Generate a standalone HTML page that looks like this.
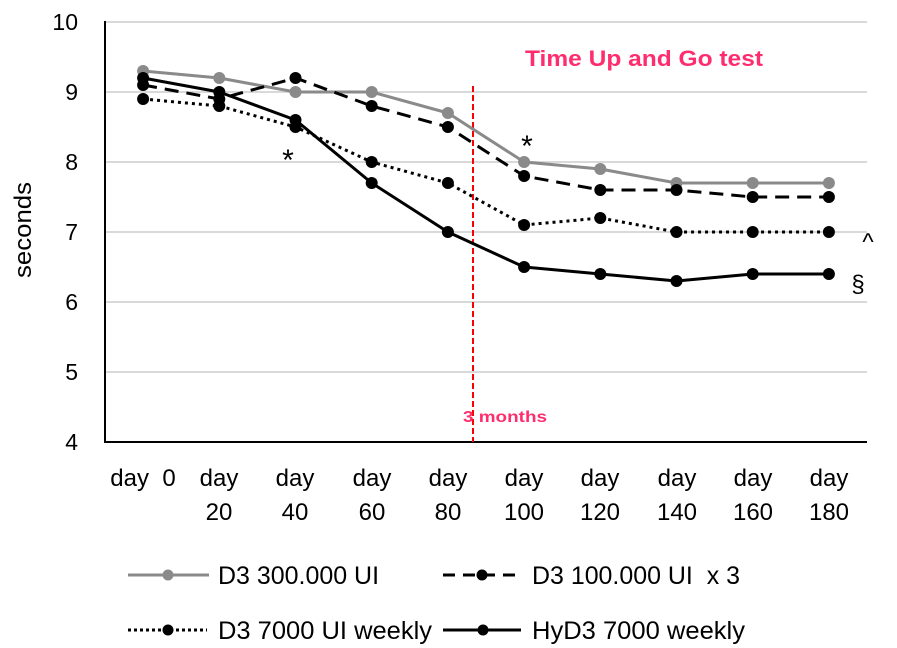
<!DOCTYPE html>
<html>
<head>
<meta charset="utf-8">
<style>
  html, body { margin: 0; padding: 0; background: #ffffff; }
  svg { display: block; }
  text { font-family: "Liberation Sans", "DejaVu Sans", sans-serif; }
</style>
</head>
<body>
<svg width="897" height="648" viewBox="0 0 897 648" xmlns="http://www.w3.org/2000/svg">
  <rect x="0" y="0" width="897" height="648" fill="#ffffff"/>

  <!-- gridlines -->
  <g stroke="#d9d9d9" stroke-width="2">
    <line x1="105" y1="22" x2="867" y2="22"/>
    <line x1="105" y1="92" x2="867" y2="92"/>
    <line x1="105" y1="162" x2="867" y2="162"/>
    <line x1="105" y1="232" x2="867" y2="232"/>
    <line x1="105" y1="302" x2="867" y2="302"/>
    <line x1="105" y1="372" x2="867" y2="372"/>
  </g>

  <!-- axes -->
  <line x1="105" y1="21" x2="105" y2="443" stroke="#000" stroke-width="2"/>
  <line x1="104" y1="442" x2="867" y2="442" stroke="#000" stroke-width="2"/>

  <!-- y tick labels -->
  <g font-size="23" fill="#000" text-anchor="end">
    <text x="78" y="30">10</text>
    <text x="78" y="100">9</text>
    <text x="78" y="170">8</text>
    <text x="78" y="240">7</text>
    <text x="78" y="310">6</text>
    <text x="78" y="380">5</text>
    <text x="78" y="450">4</text>
  </g>

  <!-- y axis title -->
  <text x="0" y="0" font-size="24" fill="#000" text-anchor="middle" textLength="96" lengthAdjust="spacingAndGlyphs" transform="translate(31,230) rotate(-90)">seconds</text>

  <!-- x labels -->
  <g font-size="24" fill="#000" text-anchor="middle">
    <text x="143" y="486" xml:space="preserve">day  0</text>
    <text x="219" y="486">day</text><text x="219" y="520">20</text>
    <text x="295" y="486">day</text><text x="295" y="520">40</text>
    <text x="372" y="486">day</text><text x="372" y="520">60</text>
    <text x="448" y="486">day</text><text x="448" y="520">80</text>
    <text x="524" y="486">day</text><text x="524" y="520">100</text>
    <text x="600" y="486">day</text><text x="600" y="520">120</text>
    <text x="677" y="486">day</text><text x="677" y="520">140</text>
    <text x="753" y="486">day</text><text x="753" y="520">160</text>
    <text x="829" y="486">day</text><text x="829" y="520">180</text>
  </g>

  <!-- red dashed 3 months line -->
  <line x1="473" y1="86" x2="473" y2="442" stroke="#ff0000" stroke-width="2" stroke-dasharray="6,3"/>
  <text x="505" y="422" font-size="16" font-weight="bold" fill="#ff2d6e" text-anchor="middle" textLength="84" lengthAdjust="spacingAndGlyphs">3 months</text>

  <!-- title -->
  <text x="644" y="66" font-size="22" font-weight="bold" fill="#ff2d6e" text-anchor="middle" textLength="238" lengthAdjust="spacingAndGlyphs">Time Up and Go test</text>

  <!-- Series 1: D3 300.000 UI (gray solid) -->
  <polyline fill="none" stroke="#8a8a8a" stroke-width="3" stroke-linejoin="round"
    points="143.1,71 219.3,78 295.5,92 371.7,92 447.9,113 524.1,162 600.3,169 676.5,183 752.7,183 828.9,183"/>
  <g fill="#8a8a8a">
    <circle cx="143.1" cy="71" r="6"/><circle cx="219.3" cy="78" r="6"/><circle cx="295.5" cy="92" r="6"/>
    <circle cx="371.7" cy="92" r="6"/><circle cx="447.9" cy="113" r="6"/><circle cx="524.1" cy="162" r="6"/>
    <circle cx="600.3" cy="169" r="6"/><circle cx="676.5" cy="183" r="6"/><circle cx="752.7" cy="183" r="6"/>
    <circle cx="828.9" cy="183" r="6"/>
  </g>

  <!-- Series 2: D3 100.000 UI x 3 (black dashed) -->
  <polyline fill="none" stroke="#000" stroke-width="3" stroke-dasharray="14,8"
    points="143.1,85 219.3,99 295.5,78 371.7,106 447.9,127 524.1,176 600.3,190 676.5,190 752.7,197 828.9,197"/>
  <g fill="#000">
    <circle cx="143.1" cy="85" r="6"/><circle cx="219.3" cy="99" r="6"/><circle cx="295.5" cy="78" r="6"/>
    <circle cx="371.7" cy="106" r="6"/><circle cx="447.9" cy="127" r="6"/><circle cx="524.1" cy="176" r="6"/>
    <circle cx="600.3" cy="190" r="6"/><circle cx="676.5" cy="190" r="6"/><circle cx="752.7" cy="197" r="6"/>
    <circle cx="828.9" cy="197" r="6"/>
  </g>

  <!-- Series 3: D3 7000 UI weekly (black dotted) -->
  <polyline fill="none" stroke="#000" stroke-width="3" stroke-dasharray="3,4"
    points="143.1,99 219.3,106 295.5,127 371.7,162 447.9,183 524.1,225 600.3,218 676.5,232 752.7,232 828.9,232"/>
  <g fill="#000">
    <circle cx="143.1" cy="99" r="6"/><circle cx="219.3" cy="106" r="6"/><circle cx="295.5" cy="127" r="6"/>
    <circle cx="371.7" cy="162" r="6"/><circle cx="447.9" cy="183" r="6"/><circle cx="524.1" cy="225" r="6"/>
    <circle cx="600.3" cy="218" r="6"/><circle cx="676.5" cy="232" r="6"/><circle cx="752.7" cy="232" r="6"/>
    <circle cx="828.9" cy="232" r="6"/>
  </g>

  <!-- Series 4: HyD3 7000 weekly (black solid) -->
  <polyline fill="none" stroke="#000" stroke-width="3" stroke-linejoin="round"
    points="143.1,78 219.3,92 295.5,120 371.7,183 447.9,232 524.1,267 600.3,274 676.5,281 752.7,274 828.9,274"/>
  <g fill="#000">
    <circle cx="143.1" cy="78" r="6"/><circle cx="219.3" cy="92" r="6"/><circle cx="295.5" cy="120" r="6"/>
    <circle cx="371.7" cy="183" r="6"/><circle cx="447.9" cy="232" r="6"/><circle cx="524.1" cy="267" r="6"/>
    <circle cx="600.3" cy="274" r="6"/><circle cx="676.5" cy="281" r="6"/><circle cx="752.7" cy="274" r="6"/>
    <circle cx="828.9" cy="274" r="6"/>
  </g>

  <!-- annotations -->
  <g font-size="30" fill="#000" text-anchor="middle">
    <text x="288" y="170">*</text>
    <text x="527" y="156">*</text>
  </g>
  <text x="868" y="250" font-size="24" fill="#000" text-anchor="middle">^</text>
  <text x="858" y="292" font-size="24" fill="#000" text-anchor="middle">§</text>

  <!-- legend row 1 -->
  <line x1="128" y1="575" x2="209" y2="575" stroke="#8a8a8a" stroke-width="3"/>
  <circle cx="168" cy="575" r="5.5" fill="#8a8a8a"/>
  <text x="218" y="584" font-size="25" fill="#000" textLength="161" lengthAdjust="spacingAndGlyphs">D3 300.000 UI</text>

  <line x1="443" y1="575" x2="520" y2="575" stroke="#000" stroke-width="3" stroke-dasharray="12,8"/>
  <circle cx="482" cy="575" r="5.5" fill="#000"/>
  <text x="532" y="584" font-size="25" fill="#000" textLength="208" lengthAdjust="spacingAndGlyphs" xml:space="preserve">D3 100.000 UI  x 3</text>

  <!-- legend row 2 -->
  <line x1="128" y1="630" x2="207" y2="630" stroke="#000" stroke-width="3" stroke-dasharray="3,3"/>
  <circle cx="168" cy="630" r="5.5" fill="#000"/>
  <text x="218" y="639" font-size="25" fill="#000" textLength="214" lengthAdjust="spacingAndGlyphs">D3 7000 UI weekly</text>

  <line x1="443" y1="630" x2="521" y2="630" stroke="#000" stroke-width="3"/>
  <circle cx="483" cy="630" r="5.5" fill="#000"/>
  <text x="532" y="639" font-size="25" fill="#000" textLength="213" lengthAdjust="spacingAndGlyphs">HyD3 7000 weekly</text>
</svg>
</body>
</html>
